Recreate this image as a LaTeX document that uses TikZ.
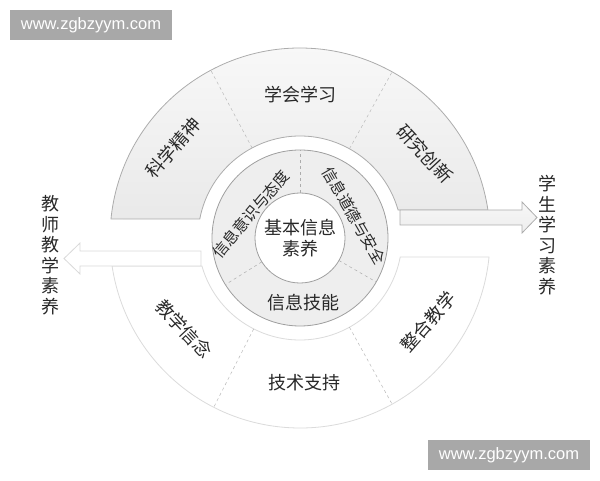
\documentclass[tikz,border=0pt]{standalone}
\usepackage{fontspec}
\newfontfamily\cjk{Noto Sans CJK SC}
\newfontfamily\wmfont{Liberation Sans}
\definecolor{wmgray}{RGB}{168,168,168}
\definecolor{txt}{RGB}{40,40,40}
\begin{document}
\begin{tikzpicture}[x=1pt,y=1pt,
  lblbig/.style={font=\cjk\fontsize{18}{20.5}\selectfont, text=txt, inner sep=0pt},
  lblmid/.style={font=\cjk\fontsize{15.5}{18}\selectfont, text=txt, inner sep=0pt},
  divline/.style={draw=gray!55, dashed, line width=0.5pt},
  wmbox/.style={fill=wmgray, text=white, minimum width=162pt, minimum height=30pt, inner sep=0pt, font=\wmfont\fontsize{16.5}{18}\selectfont}]
\useasboundingbox (0,0) rectangle (600,480);
\coordinate (C) at (300,242);
\begin{scope}[shift={(C)}]
  % bottom band (white) and left arrow
  \begin{scope}[rotate=180]
    \path[fill=white, draw=gray!28, line width=0.8pt]
      (174.26:190) arc[start angle=174.26, end angle=8.47, radius=190]
      -- (15.93:102) arc[start angle=15.93, end angle=169.27, radius=102] -- cycle;
    \path[fill=white, draw=gray!30, line width=0.8pt]
      (99,28) -- (220,28) -- (220,36) -- (236,20.5) -- (220,5) -- (220,13) -- (99,13) -- cycle;
  \end{scope}
  % top band (grey) and right arrow
  \path[top color=gray!5, bottom color=gray!17, draw=gray!65, line width=0.8pt]
    (174.26:190) arc[start angle=174.26, end angle=8.47, radius=190]
    -- (15.93:102) arc[start angle=15.93, end angle=169.27, radius=102] -- cycle;
  \path[top color=gray!6, bottom color=gray!14, draw=gray!65, line width=0.8pt]
    (100,28) -- (222,28) -- (222,36) -- (237,20.5) -- (222,5) -- (222,13) -- (100,13) -- cycle;
  % outer dividers
  \draw[divline] (61:102) -- (61:190);
  \draw[divline] (118:102) -- (118:190);
  \draw[divline] (243:102) -- (243:190);
  \draw[divline] (299:102) -- (299:190);
  % middle ring
  \path[fill=gray!13, draw=gray!75, line width=0.8pt] (0,0) circle[radius=88];
  \path[fill=white, draw=gray!75, line width=0.8pt] (0,0) circle[radius=45];
  \draw[divline, draw=gray!65] (90:45) -- (90:88);
  \draw[divline, draw=gray!65] (212:45) -- (212:88);
  \draw[divline, draw=gray!65] (330:45) -- (330:88);
  % labels outer band
  \node[lblbig] (xhxx) at (0,143) {学会学习};
  \node[lblbig, rotate=49] (kxjs) at (-127,90) {科学精神};
  \node[lblbig, rotate=-47] (yjcx) at (125,84) {研究创新};
  \node[lblbig, rotate=-47] (jxxn) at (-116,-91) {教学信念};
  \node[lblbig, rotate=49] (zhjx) at (128,-84) {整合教学};
  \node[lblbig] (jszc) at (4,-145) {技术支持};
  % labels middle ring
  \node[lblmid, rotate=50] (ysyd) at (-49,24) {信息意识与态度};
  \node[lblmid, rotate=-60] (ddaq) at (54,22.5) {信息道德与安全};
  \node[lblbig] (xxjn) at (3,-65) {信息技能};
  \node[lblbig, align=center] (core) at (0,0) {基本信息\\素养};
\end{scope}
% side labels
\node[lblbig, align=center] (teacher) at (50,225) {教\\师\\教\\学\\素\\养};
\node[lblbig, align=center] (student) at (547,245) {学\\生\\学\\习\\素\\养};
% watermarks
\node[wmbox] (wm1) at (91,455) {www.zgbzyym.com};
\node[wmbox] (wm2) at (509,25) {www.zgbzyym.com};
\end{tikzpicture}
\end{document}
